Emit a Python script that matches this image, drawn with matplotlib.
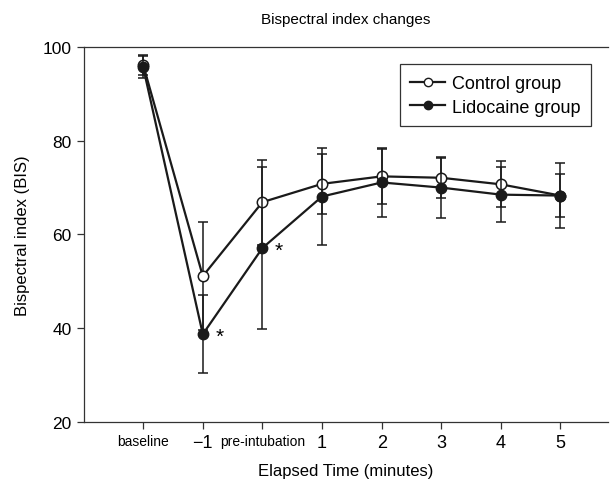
import matplotlib
matplotlib.use('Agg')
import matplotlib.pyplot as plt
from matplotlib.lines import Line2D

plt.rcParams['font.family'] = ['Liberation Sans', 'DejaVu Sans']

# x positions 1..8
tick_labels = ['baseline', '\u22121', 'pre-intubation', '1', '2', '3', '4', '5']
control_mean = [96.2, 51.1, 66.9, 70.8, 72.4, 72.1, 70.7, 68.3]
control_sd = [2.2, 11.5, 9.1, 6.4, 5.8, 4.3, 4.9, 4.5]
lido_mean = [95.7, 38.7, 57.1, 68.1, 71.1, 70.0, 68.5, 68.3]
lido_sd = [2.4, 8.3, 17.3, 10.3, 7.3, 6.5, 5.9, 6.9]
signif = [1, 2]  # indices marked with *

x = list(range(1, len(tick_labels) + 1))
ink = '#1a1a1a'

fig = plt.figure(figsize=(6.1, 4.81), dpi=100)
ax = fig.add_axes([0.137, 0.121, 0.86, 0.779])

ax.errorbar(x, control_mean, yerr=control_sd, color=ink, lw=1.6, elinewidth=1.1,
            capsize=3.5, capthick=1.1, marker='o', ms=7.5, mfc='white', mec=ink,
            mew=1.1, zorder=2)
ax.errorbar(x, lido_mean, yerr=lido_sd, color=ink, lw=1.6, elinewidth=1.1,
            capsize=3.5, capthick=1.1, marker='o', ms=7.5, mfc=ink, mec=ink,
            zorder=3)

for i in signif:
    ax.text(x[i] + 0.28, lido_mean[i] - 0.4, '*', fontsize=15, ha='center', va='center')

ax.set_xlim(0, 8.8)
ax.set_ylim(20, 100)
ax.set_yticks([20, 40, 60, 80, 100])
ax.set_xticks(x)
ax.set_xticklabels(tick_labels)
for lab, t in zip(ax.get_xticklabels(), tick_labels):
    if len(t) > 2:
        lab.set_fontsize(10)
    else:
        lab.set_fontsize(13)
ax.tick_params(axis='y', labelsize=12.5)
ax.tick_params(direction='out', length=5, width=0.9, color='#333333')
ax.spines['right'].set_visible(False)
for s in ['left', 'bottom', 'top']:
    ax.spines[s].set_linewidth(0.9)
    ax.spines[s].set_color('#333333')

ax.set_xlabel('Elapsed Time (minutes)', fontsize=12, labelpad=9)
ax.set_ylabel('Bispectral index (BIS)', fontsize=12, labelpad=9)
ax.set_title('Bispectral index changes', fontsize=11, pad=17)

handles = [
    Line2D([], [], color=ink, lw=1.6, marker='o', ms=6, mfc='white', mec=ink, mew=1.0),
    Line2D([], [], color=ink, lw=1.6, marker='o', ms=6, mfc=ink, mec=ink),
]
leg = ax.legend(handles, ['Control group', 'Lidocaine group'], loc='upper right',
                bbox_to_anchor=(0.985, 0.978), fontsize=13, fancybox=False,
                edgecolor='#333333', framealpha=1, handlelength=1.9,
                borderpad=0.6, labelspacing=0.35, handletextpad=0.4)
leg.get_frame().set_linewidth(0.9)

fig.savefig('out.png', dpi=100)
